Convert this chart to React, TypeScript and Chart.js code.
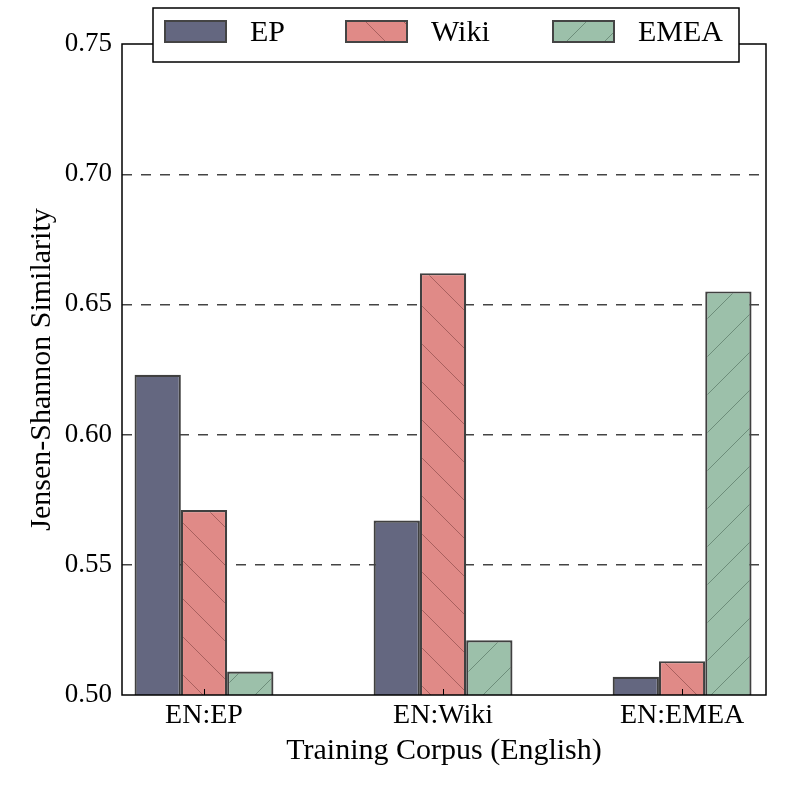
import { useEffect, useRef } from 'react';
import { Chart, registerables } from 'chart.js';

Chart.register(...registerables);

const categories = ['EN:EP', 'EN:Wiki', 'EN:EMEA'];
const groupPositions = [0, 1, 2];
const epValues = [0.623, 0.567, 0.507];
const wikiValues = [0.571, 0.662, 0.513];
const emeaValues = [0.509, 0.521, 0.655];
const yTicks = [0.5, 0.55, 0.6, 0.65, 0.7, 0.75];

const FONT = "'Liberation Serif', 'DejaVu Serif', serif";

// matplotlib-like hatch tile: base colour + thin diagonal lines
function makeHatch(base: string, line: string, dir: 'back' | 'fwd', phase: number) {
  const s = 38;
  const c = document.createElement('canvas');
  c.width = s;
  c.height = s;
  const g = c.getContext('2d')!;
  g.fillStyle = base;
  g.fillRect(0, 0, s, s);
  g.strokeStyle = line;
  g.lineWidth = 1;
  for (const k of [-1, 0, 1]) {
    const o = k * s + phase;
    g.beginPath();
    if (dir === 'back') {
      g.moveTo(o, 0);
      g.lineTo(o + s, s);
    } else {
      g.moveTo(o, s);
      g.lineTo(o + s, 0);
    }
    g.stroke();
  }
  return g.createPattern(c, 'repeat')!;
}

// frame, inward x ticks and the boxed legend sitting on the top spine
const framePlugin = {
  id: 'frameAndLegend',
  afterDraw(chart: any) {
    const { ctx, chartArea } = chart;
    const { left, top, right, bottom } = chartArea;
    ctx.save();

    const xScale = chart.scales.x;
    ctx.strokeStyle = '#000';
    ctx.lineWidth = 1;
    xScale.ticks.forEach((t: any) => {
      const px = Math.round(xScale.getPixelForValue(t.value)) + 0.5;
      ctx.beginPath();
      ctx.moveTo(px, bottom);
      ctx.lineTo(px, bottom - 6);
      ctx.stroke();
    });

    ctx.lineWidth = 1.5;
    ctx.strokeRect(left, top, right - left, bottom - top);

    // legend
    const bx = left + 31;
    const by = 8;
    const bw = 586;
    const bh = 54;
    ctx.fillStyle = '#fff';
    ctx.fillRect(bx, by, bw, bh);
    ctx.strokeStyle = '#000';
    ctx.lineWidth = 1.5;
    ctx.strokeRect(bx, by, bw, bh);

    const swatchX = [12, 193, 400];
    ctx.font = `30px ${FONT}`;
    ctx.textBaseline = 'middle';
    chart.data.datasets.forEach((ds: any, i: number) => {
      const sx = bx + swatchX[i];
      ctx.fillStyle = ds.backgroundColor;
      ctx.fillRect(sx, by + 13, 61, 21);
      ctx.strokeStyle = '#444';
      ctx.lineWidth = 2;
      ctx.strokeRect(sx, by + 13, 61, 21);
      ctx.fillStyle = '#000';
      ctx.fillText(ds.label, sx + 85, by + 25);
    });

    ctx.restore();
  },
};

export default function App() {
  const canvasRef = useRef<HTMLCanvasElement>(null);
  const chartRef = useRef<any>(null);

  useEffect(() => {
    if (!canvasRef.current) return;
    if (chartRef.current) chartRef.current.destroy();
    const ctx = canvasRef.current.getContext('2d');
    if (!ctx) return;

    const wikiFill = makeHatch('#e08a87', '#a8605e', 'back', 2);
    const emeaFill = makeHatch('#9cc0aa', '#6d8d7a', 'fwd', 0);

    chartRef.current = new Chart(ctx, {
      type: 'bar',
      data: {
        datasets: [
          {
            label: 'EP',
            data: groupPositions.map((x, i) => ({ x, y: epValues[i] })),
            backgroundColor: '#646780',
          },
          {
            label: 'Wiki',
            data: groupPositions.map((x, i) => ({ x, y: wikiValues[i] })),
            backgroundColor: wikiFill,
          },
          {
            label: 'EMEA',
            data: groupPositions.map((x, i) => ({ x, y: emeaValues[i] })),
            backgroundColor: emeaFill,
          },
        ],
      },
      options: {
        responsive: true,
        maintainAspectRatio: false,
        animation: false,
        layout: { padding: { left: 0, top: 44, right: 31, bottom: 0 } },
        datasets: {
          bar: {
            borderColor: '#404040',
            borderWidth: 2.2,
            borderSkipped: false,
            categoryPercentage: 0.581,
            barPercentage: 1,
          },
        },
        plugins: {
          legend: { display: false },
          tooltip: { enabled: false },
        },
        scales: {
          x: {
            type: 'linear',
            min: -0.343,
            max: 2.351,
            offset: false,
            afterBuildTicks: (scale: any) => {
              scale.ticks = groupPositions.map((v) => ({ value: v }));
            },
            afterFit: (scale: any) => {
              scale.height = 102;
            },
            grid: { display: false },
            border: { display: false },
            ticks: {
              color: '#000',
              padding: -4,
              font: { family: FONT, size: 28 },
              callback: (v: any) => categories[groupPositions.indexOf(v)] ?? '',
            },
            title: {
              display: true,
              text: 'Training Corpus (English)',
              color: '#000',
              font: { family: FONT, size: 30 },
              padding: { top: 0, bottom: 28 },
            },
          },
          y: {
            min: 0.5,
            max: 0.75,
            z: 1,
            afterBuildTicks: (scale: any) => {
              scale.ticks = yTicks.map((v) => ({ value: v }));
            },
            afterFit: (scale: any) => {
              scale.width = 122;
            },
            grid: {
              color: (c: any) =>
                c.tick && (c.tick.value <= 0.5 || c.tick.value >= 0.75) ? 'rgba(0,0,0,0)' : '#444',
              lineWidth: 1.4,
              drawTicks: false,
            },
            border: { display: false, dash: [10, 9] },
            ticks: {
              color: '#000',
              padding: 10,
              font: { family: FONT, size: 27 },
              callback: (v: any) => Number(v).toFixed(2),
            },
            title: {
              display: true,
              text: 'Jensen-Shannon Similarity',
              color: '#000',
              font: { family: FONT, size: 30 },
              padding: { top: 24, bottom: 0 },
            },
          },
        },
      },
      plugins: [framePlugin],
    });

    return () => {
      if (chartRef.current) {
        chartRef.current.destroy();
        chartRef.current = null;
      }
    };
  }, []);

  return (
    <div style={{ position: 'fixed', left: 0, top: 0, width: 797, height: 797, background: '#fff' }}>
      <canvas ref={canvasRef}></canvas>
    </div>
  );
}
